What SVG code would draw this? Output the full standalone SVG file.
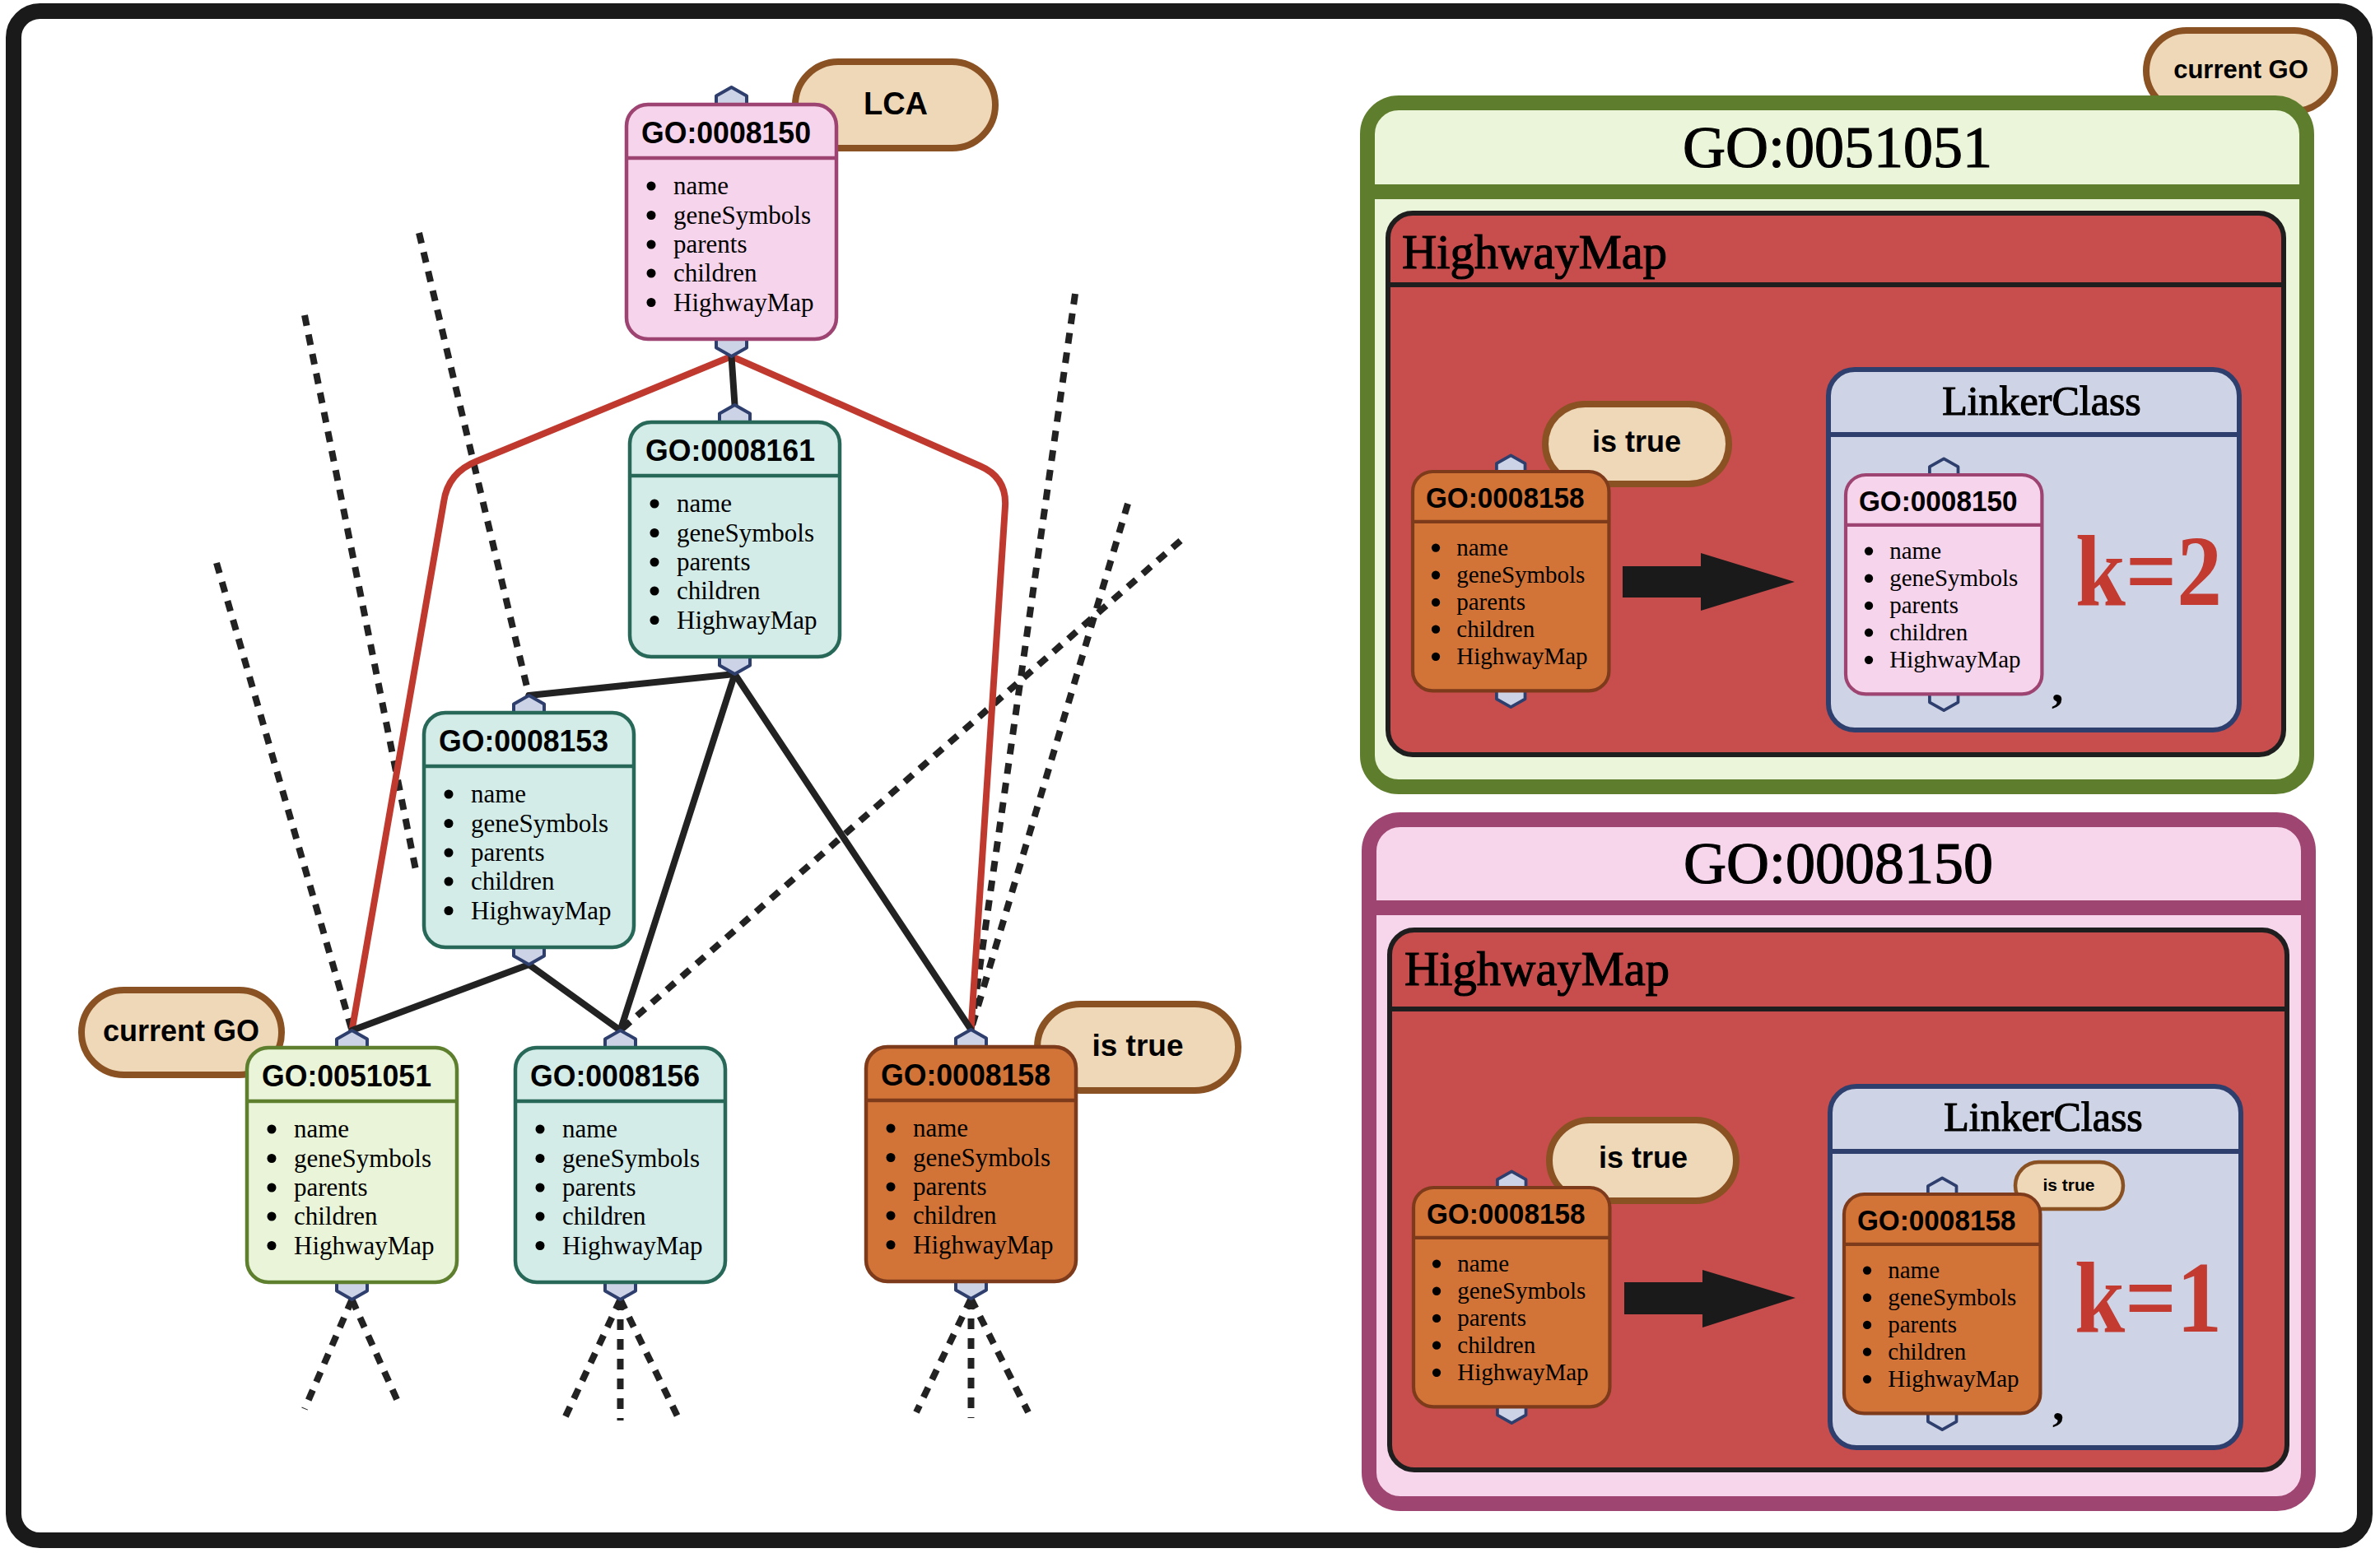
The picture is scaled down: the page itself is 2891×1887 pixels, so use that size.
<svg xmlns="http://www.w3.org/2000/svg" width="2891" height="1887" viewBox="0 0 2891 1887">
  <style>
    .frame { fill: #ffffff; stroke: #1a1a1a; stroke-width: 19; }
    .box { stroke-width: 4.5; }
    .sep { stroke-width: 4.5; }
    .port { fill: #cdd3e6; stroke: #2e3f6e; stroke-width: 4; stroke-linejoin: round; }
    .pink .box { fill: #f6d5ec; stroke: #9e4472; } .pink .sep { stroke: #9e4472; }
    .teal .box { fill: #d3ece8; stroke: #276859; } .teal .sep { stroke: #276859; }
    .lime .box { fill: #e9f4d8; stroke: #5d7f2e; } .lime .sep { stroke: #5d7f2e; }
    .rust .box { fill: #d27437; stroke: #7e3b1c; } .rust .sep { stroke: #7e3b1c; }
    .title { font-family: "Liberation Sans", Arial, sans-serif; font-weight: bold; font-size: 37px; fill: #000; }
    .field { font-family: "Liberation Serif", "Times New Roman", serif; font-size: 31px; fill: #000; }
    .bul { fill: #000; }
    .pill { fill: #eed8b8; stroke: #8a5123; stroke-width: 8; }
    .pill-text { font-family: "Liberation Sans", Arial, sans-serif; font-weight: bold; fill: #000; text-anchor: middle; }
    .edge { fill: none; stroke: #222; stroke-width: 8; stroke-linecap: round; }
    .hop { fill: none; stroke: #c0392f; stroke-width: 8; stroke-linecap: round; stroke-linejoin: round; }
    .dot { fill: none; stroke: #222; stroke-width: 8; stroke-dasharray: 13 11; }
    .serif { font-family: "Liberation Serif", "Times New Roman", serif; fill: #000; }
    .heavy { stroke: #000; stroke-width: 1.2; }
    .redmap { fill: #c84d4d; stroke: #1e1e1e; stroke-width: 6; }
    .linker { fill: #ced4e6; stroke: #2e3f6e; stroke-width: 6; }
    .kval { font-family: "Liberation Serif", "Times New Roman", serif; font-weight: bold; font-size: 122px; fill: #c23a30; }
  </style>

  <defs>
    <!-- GO term record: two ports, then header with id and bulleted field list -->
    <g id="go-body">
      <polygon class="port" points="127.5,-21 146,-10.5 146,10.5 127.5,21 109,10.5 109,-10.5"/>
      <polygon class="port" points="127.5,264 146,274.5 146,295.5 127.5,306 109,295.5 109,274.5"/>
    </g>
    <g id="go-fields">
      <circle class="bul" cx="30" cy="99" r="5.5"/>
      <circle class="bul" cx="30" cy="134.5" r="5.5"/>
      <circle class="bul" cx="30" cy="170" r="5.5"/>
      <circle class="bul" cx="30" cy="205" r="5.5"/>
      <circle class="bul" cx="30" cy="240.5" r="5.5"/>
      <text class="field" x="57" y="109">name</text>
      <text class="field" x="57" y="144.5">geneSymbols</text>
      <text class="field" x="57" y="180">parents</text>
      <text class="field" x="57" y="215">children</text>
      <text class="field" x="57" y="250.5">HighwayMap</text>
    </g>
  </defs>

  <rect class="frame" x="16.5" y="13.5" width="2856" height="1858" rx="32"/>

  <!-- hierarchy connectors -->
  <g id="connectors">
    <g id="dotted">
      <line class="dot" x1="263" y1="684" x2="427.5" y2="1252"/>
      <line class="dot" x1="370" y1="383" x2="506" y2="1062"/>
      <line class="dot" x1="509" y1="283" x2="642.5" y2="845"/>
      <line class="dot" x1="1306" y1="357" x2="1179.5" y2="1251"/>
      <line class="dot" x1="1370" y1="612" x2="1179.5" y2="1251"/>
      <line class="dot" x1="1434" y1="657" x2="753.5" y2="1252"/>
      <line class="dot" x1="427.5" y1="1579" x2="370" y2="1712"/>
      <line class="dot" x1="427.5" y1="1579" x2="485" y2="1707"/>
      <line class="dot" x1="753.5" y1="1579" x2="687" y2="1721"/>
      <line class="dot" x1="753.5" y1="1579" x2="753.5" y2="1726"/>
      <line class="dot" x1="753.5" y1="1579" x2="823" y2="1721"/>
      <line class="dot" x1="1179.5" y1="1578" x2="1113" y2="1716"/>
      <line class="dot" x1="1179.5" y1="1578" x2="1179.5" y2="1723"/>
      <line class="dot" x1="1179.5" y1="1578" x2="1249" y2="1716"/>
    </g>
    <g id="lca-paths">
      <path class="hop" d="M888.5,433 L580,560 Q544,574 539,610 L427.5,1252"/>
      <path class="hop" d="M888.5,433 L1190,566 Q1223,580 1221,615 L1179.5,1251"/>
    </g>
    <g id="is-a">
      <line class="edge" x1="888.5" y1="433" x2="892.5" y2="492"/>
      <line class="edge" x1="892.5" y1="819" x2="642.5" y2="845"/>
      <line class="edge" x1="892.5" y1="819" x2="753.5" y2="1252"/>
      <line class="edge" x1="892.5" y1="819" x2="1179.5" y2="1251"/>
      <line class="edge" x1="642.5" y1="1172" x2="427.5" y2="1252"/>
      <line class="edge" x1="642.5" y1="1172" x2="753.5" y2="1252"/>
    </g>
  </g>

  <!-- tags -->
  <g id="tag-lca">
    <rect class="pill" x="966" y="75" width="243" height="105" rx="52.5"/>
    <text class="pill-text" x="1088" y="139" font-size="38">LCA</text>
  </g>
  <g id="tag-current">
    <rect class="pill" x="99" y="1203" width="243" height="103" rx="51.5"/>
    <text class="pill-text" x="220" y="1265" font-size="36">current GO</text>
  </g>
  <g id="tag-true">
    <rect class="pill" x="1260" y="1220" width="244" height="105" rx="52.5"/>
    <text class="pill-text" x="1382" y="1283" font-size="37">is true</text>
  </g>

  <!-- GO term nodes -->
  <g id="node-0008150" class="pink" transform="translate(761,127)">
    <use href="#go-body"/>
    <rect class="box" width="255" height="285" rx="26"/>
    <line class="sep" x1="0" y1="65" x2="255" y2="65"/>
    <text class="title" x="18" y="47" textLength="206" lengthAdjust="spacingAndGlyphs">GO:0008150</text>
    <use href="#go-fields"/>
  </g>
  <g id="node-0008161" class="teal" transform="translate(765,513)">
    <use href="#go-body"/>
    <rect class="box" width="255" height="285" rx="26"/>
    <line class="sep" x1="0" y1="65" x2="255" y2="65"/>
    <text class="title" x="19" y="47" textLength="206" lengthAdjust="spacingAndGlyphs">GO:0008161</text>
    <use href="#go-fields"/>
  </g>
  <g id="node-0008153" class="teal" transform="translate(515,866)">
    <use href="#go-body"/>
    <rect class="box" width="255" height="285" rx="26"/>
    <line class="sep" x1="0" y1="65" x2="255" y2="65"/>
    <text class="title" x="18" y="47" textLength="206" lengthAdjust="spacingAndGlyphs">GO:0008153</text>
    <use href="#go-fields"/>
  </g>
  <g id="node-0051051" class="lime" transform="translate(300,1273)">
    <use href="#go-body"/>
    <rect class="box" width="255" height="285" rx="26"/>
    <line class="sep" x1="0" y1="65" x2="255" y2="65"/>
    <text class="title" x="18" y="47" textLength="206" lengthAdjust="spacingAndGlyphs">GO:0051051</text>
    <use href="#go-fields"/>
  </g>
  <g id="node-0008156" class="teal" transform="translate(626,1273)">
    <use href="#go-body"/>
    <rect class="box" width="255" height="285" rx="26"/>
    <line class="sep" x1="0" y1="65" x2="255" y2="65"/>
    <text class="title" x="18" y="47" textLength="206" lengthAdjust="spacingAndGlyphs">GO:0008156</text>
    <use href="#go-fields"/>
  </g>
  <g id="node-0008158" class="rust" transform="translate(1052,1272)">
    <use href="#go-body"/>
    <rect class="box" width="255" height="285" rx="26"/>
    <line class="sep" x1="0" y1="65" x2="255" y2="65"/>
    <text class="title" x="18" y="47" textLength="206" lengthAdjust="spacingAndGlyphs">GO:0008158</text>
    <use href="#go-fields"/>
  </g>

  <!-- record for GO:0051051 -->
  <g id="tag-current-record">
    <rect class="pill" x="2607" y="37" width="229" height="98" rx="49"/>
    <text class="pill-text" x="2722" y="95" font-size="31">current GO</text>
  </g>
  <g id="record-0051051">
    <rect x="1661" y="125" width="1141" height="831" rx="38" fill="#eaf5d9" stroke="#5e7e2d" stroke-width="18"/>
    <line x1="1661" y1="233" x2="2802" y2="233" stroke="#5e7e2d" stroke-width="18"/>
    <text class="serif heavy" x="2232" y="203" font-size="72" text-anchor="middle">GO:0051051</text>
    <rect class="redmap" x="1686" y="259" width="1088" height="658" rx="30"/>
    <line x1="1686" y1="346" x2="2774" y2="346" stroke="#1e1e1e" stroke-width="6"/>
    <text class="serif heavy" x="1703" y="326" font-size="60" textLength="322" lengthAdjust="spacingAndGlyphs">HighwayMap</text>
    <g id="tag-true-a">
      <rect class="pill" x="1877" y="491" width="223" height="97" rx="48.5"/>
      <text class="pill-text" x="1988" y="549" font-size="36">is true</text>
    </g>
    <g id="key-0008158-a" class="rust" transform="translate(1716,573) scale(0.935)">
      <use href="#go-body"/>
      <rect class="box" width="255" height="285" rx="26"/>
      <line class="sep" x1="0" y1="65" x2="255" y2="65"/>
      <text class="title" x="17" y="47" textLength="206" lengthAdjust="spacingAndGlyphs">GO:0008158</text>
      <use href="#go-fields"/>
    </g>
    <polygon fill="#1a1a1a" points="1971,688 2066,688 2066,672 2180,707 2066,742 2066,726 1971,726"/>
    <g id="linker-a">
      <rect class="linker" x="2221" y="449" width="499" height="438" rx="32"/>
      <line x1="2221" y1="528" x2="2720" y2="528" stroke="#2e3f6e" stroke-width="6"/>
      <text class="serif heavy" x="2480" y="504" font-size="50" text-anchor="middle">LinkerClass</text>
      <g id="value-0008150-a" class="pink" transform="translate(2242,577) scale(0.935)">
        <use href="#go-body"/>
        <rect class="box" width="255" height="285" rx="26"/>
        <line class="sep" x1="0" y1="65" x2="255" y2="65"/>
        <text class="title" x="17" y="47" textLength="206" lengthAdjust="spacingAndGlyphs">GO:0008150</text>
        <use href="#go-fields"/>
      </g>
      <text class="kval" x="2521" y="735" textLength="178" lengthAdjust="spacingAndGlyphs">k=2</text>
      <text class="serif" x="2492" y="852" font-size="58" font-weight="bold">,</text>
    </g>
  </g>

  <!-- record for GO:0008150 -->
  <g id="record-0008150">
    <rect x="1663" y="996" width="1141" height="831" rx="38" fill="#f7d6ec" stroke="#9f4571" stroke-width="18"/>
    <line x1="1663" y1="1103" x2="2804" y2="1103" stroke="#9f4571" stroke-width="18"/>
    <text class="serif heavy" x="2233" y="1073" font-size="72" text-anchor="middle">GO:0008150</text>
    <rect class="redmap" x="1688" y="1130" width="1090" height="656" rx="30"/>
    <line x1="1688" y1="1226" x2="2778" y2="1226" stroke="#1e1e1e" stroke-width="6"/>
    <text class="serif heavy" x="1706" y="1197" font-size="60" textLength="322" lengthAdjust="spacingAndGlyphs">HighwayMap</text>
    <g id="tag-true-b">
      <rect class="pill" x="1882" y="1361" width="227" height="98" rx="49"/>
      <text class="pill-text" x="1996" y="1419" font-size="36">is true</text>
    </g>
    <g id="key-0008158-b" class="rust" transform="translate(1717,1443) scale(0.935)">
      <use href="#go-body"/>
      <rect class="box" width="255" height="285" rx="26"/>
      <line class="sep" x1="0" y1="65" x2="255" y2="65"/>
      <text class="title" x="17" y="47" textLength="206" lengthAdjust="spacingAndGlyphs">GO:0008158</text>
      <use href="#go-fields"/>
    </g>
    <polygon fill="#1a1a1a" points="1973,1558 2068,1558 2068,1543 2181,1577 2068,1613 2068,1597 1973,1597"/>
    <g id="linker-b">
      <rect class="linker" x="2223" y="1320" width="499" height="439" rx="32"/>
      <line x1="2223" y1="1399" x2="2722" y2="1399" stroke="#2e3f6e" stroke-width="6"/>
      <text class="serif heavy" x="2482" y="1374" font-size="50" text-anchor="middle">LinkerClass</text>
      <g id="tag-true-c">
        <rect x="2448" y="1412" width="131" height="57" rx="28.5" fill="#eed8b8" stroke="#8a5123" stroke-width="4.5"/>
        <text class="pill-text" x="2513" y="1447" font-size="21">is true</text>
      </g>
      <g id="value-0008158-b" class="rust" transform="translate(2240,1451) scale(0.935)">
        <use href="#go-body"/>
        <rect class="box" width="255" height="285" rx="26"/>
        <line class="sep" x1="0" y1="65" x2="255" y2="65"/>
        <text class="title" x="17" y="47" textLength="206" lengthAdjust="spacingAndGlyphs">GO:0008158</text>
        <use href="#go-fields"/>
      </g>
      <text class="kval" x="2520" y="1618" textLength="179" lengthAdjust="spacingAndGlyphs">k=1</text>
      <text class="serif" x="2493" y="1725" font-size="58" font-weight="bold">,</text>
    </g>
  </g>
</svg>
